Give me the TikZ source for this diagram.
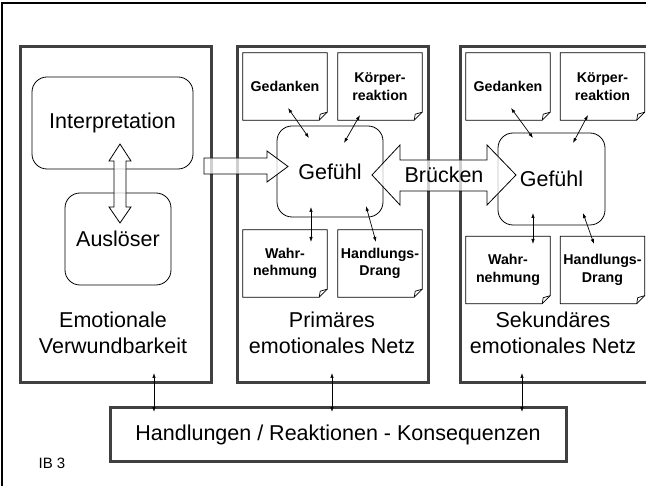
\documentclass[tikz,border=0pt]{standalone}
\usepackage{fontspec}
\setmainfont{Liberation Sans}
\usetikzlibrary{arrows.meta}

\tikzset{
  big/.style={font=\fontsize{21.5}{26}\selectfont},
  panel/.style={draw=black!75, line width=3pt},
  roundbox/.style={draw, rounded corners=15pt, line width=0.8pt, big},
  note/.style={inner sep=0pt, minimum width=84pt, minimum height=67pt,
    align=center, font=\fontsize{14.2}{17.5}\selectfont\bfseries},
  notebox/.style={draw, line width=0.8pt},
  hollow/.style={draw, line width=0.8pt, fill=white, fill opacity=0.75},
  link/.style={{Latex[length=5pt,width=3.5pt]}-{Latex[length=5pt,width=3.5pt]},
    line width=0.7pt}
}

\begin{document}
\begin{tikzpicture}[x=1pt,y=-1pt]
    \clip (0,0) rectangle (646,486);
    \fill[white] (0,0) rectangle (646,486);

    % Frame
    \draw [line width=2pt] (646,3) -- (2,3) -- (2,486);

    % Panels
    \draw [panel] (20,47) rectangle (211,383);
    \draw [panel] (237,47) rectangle (428,383);
    \draw [panel] (460,47) rectangle (680,383);

    % Emotionale Verwundbarkeit
    \node [roundbox, minimum width=161, minimum height=92] (interp) at (112.5,123) {Interpretation};
    \node [roundbox, minimum width=106, minimum height=92] (ausl) at (118,239) {Ausl\"oser};
    \node [big, align=center] (verw) at (113,333) {Emotionale\\Verwundbarkeit};

    % Primaeres Netz
    \node [roundbox, minimum width=106, minimum height=91] (gef2) at (330,171.5) {Gef\"uhl};
    \node [note] (ged2) at (285,86.5) {Gedanken};
    \node [note] (koe2) at (380,86.5) {K\"orper-\\reaktion};
    \node [note] (wah2) at (285,263.5) {Wahr-\\nehmung};
    \node [note] (han2) at (380,263.5) {Handlungs-\\Drang};
    \node [big, align=center] (prim) at (332,333) {Prim\"ares\\emotionales Netz};

    % Sekundaeres Netz
    \node [roundbox, minimum width=107, minimum height=92] (gef3) at (551.5,179) {Gef\"uhl};
    \node [note] (ged3) at (508,86.5) {Gedanken};
    \node [note] (koe3) at (602.5,86.5) {K\"orper-\\reaktion};
    \node [note] (wah3) at (508,270) {Wahr-\\nehmung};
    \node [note] (han3) at (602.5,270) {Handlungs-\\Drang};
    \node [big, align=center] (sek) at (553,333) {Sekund\"ares\\emotionales Netz};

    % Note outlines with folded corner
    \foreach \n in {ged2,koe2,wah2,han2,ged3,koe3,wah3,han3} {
        \draw [notebox] (\n.north west) -- (\n.north east)
            -- ([yshift=8pt]\n.south east) -- ([xshift=-8pt]\n.south east)
            -- (\n.south west) -- cycle;
        \draw [line width=0.7pt] ([yshift=8pt]\n.south east)
            -- ([xshift=-7pt,yshift=6pt]\n.south east) -- ([xshift=-8pt]\n.south east);
    }

    % Small links
    \coordinate (g2a) at (288,108);  \coordinate (g2b) at (309,138);
    \coordinate (k2a) at (360,115);  \coordinate (k2b) at (344,143);
    \coordinate (w2a) at (311,207);  \coordinate (w2b) at (311,242);
    \coordinate (h2a) at (366,206);  \coordinate (h2b) at (376,242);
    \coordinate (g3a) at (511,108);  \coordinate (g3b) at (533,138);
    \coordinate (k3a) at (588,115);  \coordinate (k3b) at (573,143);
    \coordinate (w3a) at (533,213);  \coordinate (w3b) at (533,244);
    \coordinate (h3a) at (583,213);  \coordinate (h3b) at (594,244);
    \draw [link] (g2a) -- (g2b);
    \draw [link] (k2a) -- (k2b);
    \draw [link] (w2a) -- (w2b);
    \draw [link] (h2a) -- (h2b);
    \draw [link] (g3a) -- (g3b);
    \draw [link] (k3a) -- (k3b);
    \draw [link] (w3a) -- (w3b);
    \draw [link] (h3a) -- (h3b);

    % Handlungen
    \node [panel, fill=white, minimum width=456, minimum height=54, big] (act) at (338,435)
        {Handlungen / Reaktionen - Konsequenzen};
    \coordinate (v1) at (154,373);  \coordinate (a1) at (154,412);
    \coordinate (v2) at (332,373);  \coordinate (a2) at (332,412);
    \coordinate (v3) at (522,373);  \coordinate (a3) at (522,412);
    \draw [link] (v1) -- (a1);
    \draw [link] (v2) -- (a2);
    \draw [link] (v3) -- (a3);

    % Hollow arrows
    \draw [hollow] (120,144) -- (131,161) -- (126,161) -- (126,207) -- (131,207)
        -- (120,223) -- (109,207) -- (114,207) -- (114,161) -- (109,161) -- cycle;
    \draw [hollow] (204,158) -- (267,158) -- (267,151) -- (288,166.5)
        -- (267,182) -- (267,174) -- (204,174) -- cycle;
    \draw [hollow] (372,175) -- (400,145) -- (400,160) -- (487,160) -- (487,145)
        -- (516,175) -- (487,205) -- (487,191) -- (400,191) -- (400,205) -- cycle;
    \node [big] (bruecken) at (444,175) {Br\"ucken};

    % Label
    \node [font=\fontsize{15}{18}\selectfont] (ib) at (52,463) {IB 3};
\end{tikzpicture}
\end{document}
